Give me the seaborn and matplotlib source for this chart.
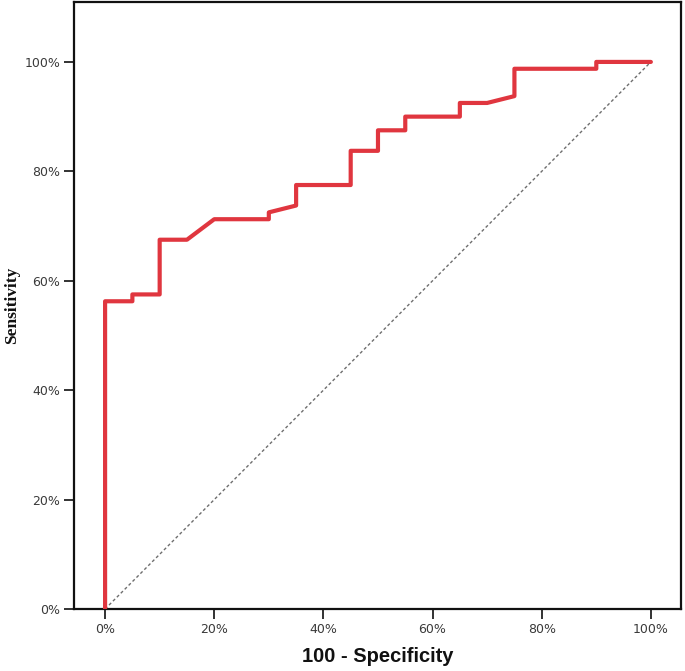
import matplotlib
matplotlib.use("Agg")
import matplotlib.pyplot as plt
import seaborn as sns
import pandas as pd
from matplotlib.ticker import FuncFormatter

# ROC curve points (percent)
fpr = [0, 0, 5, 5, 10, 10, 15, 20, 30, 30, 35, 35, 45, 45, 50, 50, 55, 55,
       65, 65, 70, 75, 75, 90, 90, 100]
tpr = [0, 56.25, 56.25, 57.5, 57.5, 67.5, 67.5, 71.25, 71.25, 72.5, 73.75,
       77.5, 77.5, 83.75, 83.75, 87.5, 87.5, 90, 90, 92.5, 92.5, 93.75,
       98.75, 98.75, 100, 100]
ref_x = [0, 100]
ref_y = [0, 100]
ticks = [0, 20, 40, 60, 80, 100]

sns.set_theme(style="white")
plt.rcParams['font.family'] = ['DejaVu Sans']

fig = plt.figure(figsize=(6.85, 6.71), dpi=100)
ax = fig.add_axes([0.108, 0.0924, 0.886, 0.905])

df = pd.DataFrame({"x": fpr, "y": tpr})
sns.lineplot(data=df, x="x", y="y", sort=False, estimator=None, ax=ax,
             color="#e0363f", lw=3.0, zorder=3)
sns.lineplot(x=ref_x, y=ref_y, ax=ax, color="#6e6e6e", lw=1.0,
             linestyle=(0, (2.2, 1.8)), zorder=2)

ax.set_xlim(-5.7, 105.5)
ax.set_ylim(0, 111)
ax.set_xticks(ticks)
ax.set_yticks(ticks)
fmt = FuncFormatter(lambda v, p: f"{int(v)}%")
ax.xaxis.set_major_formatter(fmt)
ax.yaxis.set_major_formatter(fmt)
ax.tick_params(axis="both", which="major", direction="out", length=7,
               width=1.3, color="#222222", labelsize=9, labelcolor="#3a3a3a",
               bottom=True, left=True, pad=3)
for s in ax.spines.values():
    s.set_linewidth(1.6)
    s.set_color("#111111")

ax.set_xlabel("100 - Specificity", fontsize=14.5, fontweight="bold",
              family=["Liberation Sans", "DejaVu Sans"], labelpad=8,
              color="#111111")
ax.set_ylabel("Sensitivity", fontsize=12.5, fontweight="bold",
              family=["Liberation Serif", "DejaVu Serif"], labelpad=3,
              color="#111111")

fig.savefig("out.png", dpi=100)
